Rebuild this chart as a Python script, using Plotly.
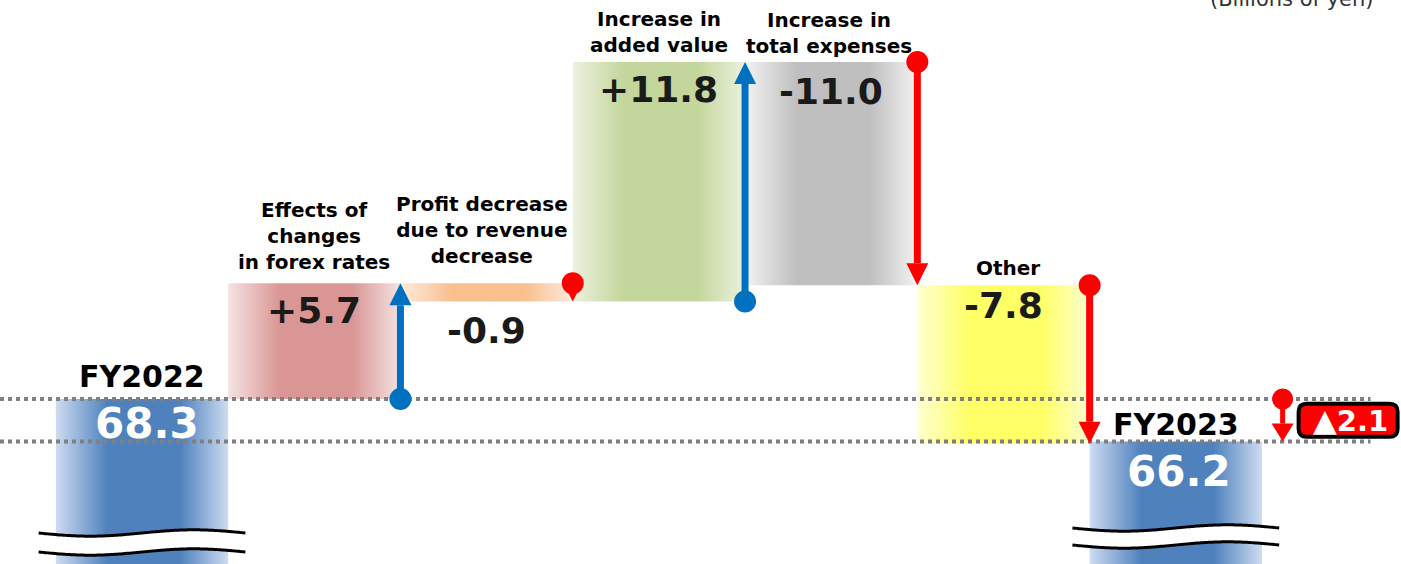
import numpy as np
import plotly.graph_objects as go

# ---------------- data ----------------
start_label = "FY2022"
end_label = "FY2023"
start_value = 68.3
end_value = 66.2
step_labels = [
    "Effects of<br>changes<br>in forex rates",
    "Profit decrease<br>due to revenue<br>decrease",
    "Increase in<br>added value",
    "Increase in<br>total expenses",
    "Other",
]
step_values = [5.7, -0.9, 11.8, -11.0, -7.8]
unit_text = "(Billions of yen)"

# ---------------- layout / style ----------------
W, H = 1401, 564
X_RANGE = [-0.824, 7.307]
Y_RANGE = [60.17, 87.955]
U_PER_PX = (Y_RANGE[1] - Y_RANGE[0]) / H
FONT = "DejaVu Sans"
TEXT = "#1a1a1a"
BLUE_ARROW = "#0070c0"
RED_ARROW = "#ff0000"

total_colors = ("#cddcf1", "#4f81bd")
step_colors = [
    ("#f5e3e3", "#d99694"),
    ("#fdebdc", "#f9bf8f"),
    ("#ebf1de", "#c3d69b"),
    ("#f2f2f2", "#bfbfbf"),
    ("#ffffd2", "#ffff66"),
]
value_anchor = ["top", "bottom", "top", "top", "top"]
value_drop = [27, 29, 27, 29, 20]
cat_gap = [7, 13, 3, 2, 3]
cat_xshift = [0, -5, 0, -2, 4]
break_px = [(533, 552), (528, 545)]
diff_arrow_x = 6.62
diff_box_x = 7.0
dotted_end_x = 7.13


def px_to_y(px):
    return Y_RANGE[1] - px * U_PER_PX


def gradient(edge, mid):
    return dict(type="horizontal",
                colorscale=[[0, edge], [0.3, mid], [0.72, mid], [1, edge]])


def bar(i, lo, hi, colors):
    edge, mid = colors
    return go.Scatter(
        x=[i - 0.5, i + 0.5, i + 0.5, i - 0.5, i - 0.5],
        y=[lo, lo, hi, hi, lo],
        mode="lines", line=dict(width=0), fill="toself",
        fillgradient=gradient(edge, mid),
        hoverinfo="skip", showlegend=False,
    )


fig = go.Figure()

n = len(step_values)
levels = [start_value] + list(start_value + np.cumsum(step_values))
end_pos = n + 1

# totals and step bars
fig.add_trace(bar(0, 0, start_value, total_colors))
for k, v in enumerate(step_values):
    lo, hi = sorted([levels[k], levels[k + 1]])
    fig.add_trace(bar(k + 1, lo, hi, step_colors[k]))
fig.add_trace(bar(end_pos, 0, end_value, total_colors))

# broken-axis marks on the total bars
t = np.linspace(0, 1, 80)
for pos, (top_px, bot_px) in zip([0, end_pos], break_px):
    xs = pos - 0.6 + 1.2 * t
    wave = 3.2 * np.sin(2 * np.pi * t)
    y_top = px_to_y(top_px + wave)
    y_bot = px_to_y(bot_px + wave)
    fig.add_trace(go.Scatter(
        x=np.concatenate([xs, xs[::-1]]), y=np.concatenate([y_top, y_bot[::-1]]),
        mode="lines", line=dict(width=0), fill="toself", fillcolor="white",
        hoverinfo="skip", showlegend=False))
    for yy in (y_top, y_bot):
        fig.add_trace(go.Scatter(x=xs, y=yy, mode="lines",
                                 line=dict(color="black", width=3, shape="spline"),
                                 hoverinfo="skip", showlegend=False))

shapes = []

# dotted reference lines at both totals
for val in (start_value, end_value):
    shapes.append(dict(type="line", xref="x", yref="y",
                       x0=X_RANGE[0], x1=dotted_end_x, y0=val, y1=val,
                       line=dict(color="#808080", width=4, dash="dot")))


def arrow(x, base, tip, color, shaft=7, head_w=22, head_h=22, dot_r=11):
    up = tip > base
    head_u = head_h * U_PER_PX
    if abs(tip - base) > head_u:
        end = tip - head_u if up else tip + head_u
        shapes.append(dict(type="line", xref="x", yref="y",
                           x0=x, x1=x, y0=base, y1=end,
                           line=dict(color=color, width=shaft)))
    shapes.append(dict(type="circle", xref="x", yref="y",
                       xsizemode="pixel", ysizemode="pixel",
                       xanchor=x, yanchor=base,
                       x0=-dot_r, x1=dot_r, y0=-dot_r, y1=dot_r,
                       fillcolor=color, line=dict(width=0)))
    s = -1 if up else 1
    hw = head_w / 2
    shapes.append(dict(type="path", xref="x", yref="y",
                       xsizemode="pixel", ysizemode="pixel",
                       xanchor=x, yanchor=tip,
                       path=f"M0,0 L{-hw},{s * head_h} L{hw},{s * head_h} Z",
                       fillcolor=color, line=dict(width=0)))


for k, v in enumerate(step_values):
    arrow(k + 1.5, levels[k], levels[k + 1], BLUE_ARROW if v > 0 else RED_ARROW)

# overall change between the two totals
arrow(diff_arrow_x, start_value, end_value, RED_ARROW,
      shaft=5, head_w=22, head_h=18, dot_r=10.5)

diff_mid = (start_value + end_value) / 2
bw, bh, r = 49.5, 16.5, 8
box_path = (f"M{-bw + r},{bh} L{bw - r},{bh} Q{bw},{bh} {bw},{bh - r} "
            f"L{bw},{-bh + r} Q{bw},{-bh} {bw - r},{-bh} "
            f"L{-bw + r},{-bh} Q{-bw},{-bh} {-bw},{-bh + r} "
            f"L{-bw},{bh - r} Q{-bw},{bh} {-bw + r},{bh} Z")
shapes.append(dict(type="path", xref="x", yref="y",
                   xsizemode="pixel", ysizemode="pixel",
                   xanchor=diff_box_x, yanchor=diff_mid, path=box_path,
                   fillcolor="#ff0000", line=dict(color="black", width=4)))

annotations = []


def label(x, y, text, size, color=TEXT, yanchor="middle", yshift=0, xshift=0,
          bold=True):
    annotations.append(dict(
        x=x, y=y, xref="x", yref="y", text=f"<b>{text}</b>" if bold else text,
        showarrow=False, yanchor=yanchor, xanchor="center",
        yshift=yshift, xshift=xshift,
        font=dict(family=FONT, size=size, color=color)))


# step labels and values
for k, v in enumerate(step_values):
    lo, hi = sorted([levels[k], levels[k + 1]])
    label(k + 1, hi, step_labels[k], 20, color="black", yanchor="bottom",
          yshift=cat_gap[k], xshift=cat_xshift[k])
    anchor_y = hi if value_anchor[k] == "top" else lo
    label(k + 1, anchor_y, f"{v:+.1f}", 36, yshift=-value_drop[k])

# totals
label(0, start_value, start_label, 30, color="black", yanchor="bottom", yshift=3)
label(0, start_value, f"{start_value:.1f}", 42, color="white", yshift=-25, xshift=5)
label(end_pos, end_value, end_label, 30, color="black", yanchor="bottom", yshift=-2)
label(end_pos, end_value, f"{end_value:.1f}", 42, color="white", yshift=-30, xshift=3)

# change badge
diff = end_value - start_value
label(diff_box_x, diff_mid,
      f"<span style='font-size:31px'>▲</span>{abs(diff):.1f}", 29,
      color="white", xshift=2, yshift=0)

annotations.append(dict(
    x=0.922, y=1, xref="paper", yref="paper", text=unit_text, showarrow=False,
    xanchor="center", yanchor="top", yshift=15,
    font=dict(family=FONT, size=21, color="#333333")))

fig.update_layout(
    width=W, height=H, margin=dict(l=0, r=0, t=0, b=0),
    paper_bgcolor="white", plot_bgcolor="white", showlegend=False,
    xaxis=dict(range=X_RANGE, visible=False, fixedrange=True),
    yaxis=dict(range=Y_RANGE, visible=False, fixedrange=True),
    shapes=shapes, annotations=annotations,
)

fig.write_html("out.html")
